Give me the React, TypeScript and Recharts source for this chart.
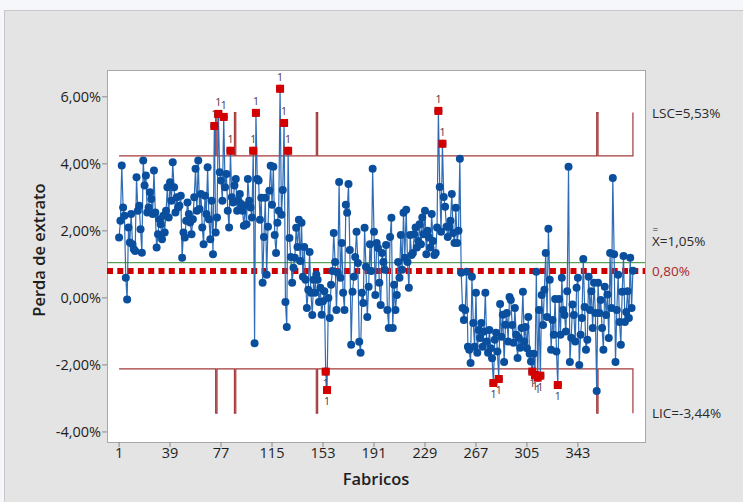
import React from "react";
import { ComposedChart, Line, XAxis, YAxis, ReferenceLine } from "recharts";

const perda = [
  1.8, 2.3, 3.95, 2.7, 2.45, 0.6, -0.05, 2.1, 1.65, 2.5,
  1.6, 1.45, 1.4, 3.6, 2.6, 2.75, 2.05, 1.35, 4.1, 3.35,
  3.65, 2.55, 2.7, 3.15, 2.95, 2.5, 3.8, 2.55, 1.5, 1.9,
  2.35, 2.2, 1.75, 2.45, 1.95, 2.6, 3.3, 2.4, 3.45, 2.9,
  4.05, 3.3, 2.55, 3.0, 2.7, 2.75, 3.05, 1.2, 1.95, 1.8,
  2.3, 2.85, 2.5, 2.25, 1.9, 2.35, 3.0, 3.85, 2.6, 4.1,
  2.65, 3.1, 2.1, 1.6, 3.05, 2.5, 3.9, 2.35, 1.75, 2.9,
  1.3, 5.13, 1.95, 2.4, 5.49, 3.75, 3.5, 2.9, 5.4, 3.3,
  3.7, 2.6, 2.1, 4.39, 3.0, 2.85, 3.35, 3.55, 2.6, 2.9,
  3.1, 2.8, 2.6, 2.15, 2.75, 2.2, 3.55, 2.9, 2.7, 2.4,
  4.39, -1.35, 5.52, 3.55, 3.5, 2.33, 2.99, 0.45, 1.82, 2.99,
  0.69, 2.12, 3.2, 3.94, 2.78, 3.91, 1.88, 1.34, 2.24, 2.6,
  6.24, 2.48, 3.22, 5.22, -0.12, -0.87, 4.39, 1.79, 1.22, 0.45,
  0.9, 1.2, 2.09, 1.52, 2.33, 1.1, 2.24, 0.63, 1.52, 0.54,
  -0.3, 0.24, 1.37, 0.15, -0.51, 0.54, 0.15, 0.7, 0.54, -0.12,
  0.3, -0.5, -0.1, 0.2, -2.2, -2.75, 0.0, -0.6, 0.39, 0.8,
  1.94, 1.07, -0.36, 0.75, 3.46, 0.6, 1.64, 0.15, -0.36, 2.78,
  2.54, 3.4, 1.43, -1.4, 0.18, 0.63, 1.22, 1.97, 1.04, -1.31,
  -1.64, 0.15, -0.15, 2.09, 0.93, -0.57, 0.33, 1.6, 0.8, 3.85,
  1.97, 0.09, 1.64, 1.49, 0.45, -0.21, 1.34, 1.07, 0.84, 1.58,
  -0.36, -0.9, 1.82, 2.39, -0.9, 0.39, -0.36, 0.09, 1.07, 0.6,
  1.88, 0.84, 2.54, 1.2, 2.63, 1.07, 0.3, 1.88, 1.28, 1.34,
  1.9, 2.1, 1.5, 1.7, 2.2, 1.6, 2.4, 1.9, 2.6, 1.3,
  2.0, 1.8, 1.5, 2.5, 1.7, 1.28, 1.34, 2.1, 5.58, 3.31,
  1.97, 4.6, 3.01, 2.72, 2.12, 1.82, 2.12, 2.3, 3.1, 1.94,
  1.64, 2.69, 1.64, 2.0, 4.15, 0.75, -0.3, -0.66, -0.36, 0.78,
  -1.46, -1.55, -1.94, 0.63, -0.75, -1.46, 0.15, -1.64, -0.96, -1.2,
  -0.75, -1.46, -1.0, 0.15, -1.3, -1.64, -0.96, -1.5, -1.8, -2.54,
  -1.25, -1.04, -1.6, -2.42, -0.18, -1.16, -0.5, -1.91, -0.8, -0.45,
  -1.3, 0.03, -0.06, -0.81, -1.34, -0.3, -1.1, -1.79, -1.19, -1.49,
  -0.9, 0.18, -1.3, -0.87, -1.5, -0.57, -1.67, -1.9, -2.2, -1.67,
  -2.3, 0.78, -2.38, -0.36, -2.32, 0.09, -0.81, 0.24, 1.34, -0.57,
  2.06, 0.54, -1.55, -0.66, -1.1, -0.03, -1.6, -2.6, -0.03, -1.1,
  0.6, -0.36, -0.51, -1.0, 0.2, 3.91, -1.91, -1.19, -0.2, -0.51,
  -1.3, 0.3, 0.6, -2.0, -1.1, -0.6, 1.16, -0.27, -1.55, -1.25,
  0.63, -0.36, 0.2, -0.9, 0.45, -0.45, -2.78, 0.45, -0.45, -0.06,
  -0.9, -1.55, 0.33, -0.51, 0.1, -1.2, 1.34, -0.3, 3.58, 1.3,
  -1.91, -0.36, 0.69, -0.72, -1.4, 0.18, 1.25, -0.72, -0.42, 0.2,
  -0.6, 1.2, -0.3, 0.81,
];

// fabricos onde os limites saltam (mudança de subgrupo)
const picosLimite = [73, 87, 148, 357, 384];

const LSC = 4.24;
const LSC_PICO = 5.53;
const LIC = -2.12;
const LIC_PICO = -3.44;
const MEDIA = 1.05;
const META = 0.8;

const ticksX = [1, 39, 77, 115, 153, 191, 229, 267, 305, 343];
const ticksY = [-4, -2, 0, 2, 4, 6];

const data = perda.map((v, i) => {
  const n = i + 1;
  const pico = picosLimite.includes(n);
  const fora = !pico && (v > LSC || v < LIC);
  return {
    n,
    perda: v,
    lsc: pico ? LSC_PICO : LSC,
    lic: pico ? LIC_PICO : LIC,
    fora: fora ? v : null,
  };
});

const FONT = "'Open Sans', 'Noto Sans', sans-serif";
const pct = (v: number) => v.toFixed(2).replace(".", ",") + "%";

function Quadrado(props: any) {
  const { cx, cy, payload, index } = props;
  if (payload == null || payload.fora == null || cx == null || cy == null) {
    return <g key={"q" + index} />;
  }
  const alto = payload.fora > MEDIA;
  return (
    <g key={"q" + index}>
      <rect x={cx - 4} y={cy - 4} width={8} height={8} fill="#d40000" />
      <text
        x={cx}
        y={alto ? cy - 8 : cy + 15}
        textAnchor="middle"
        fontSize={10.5}
        fill="#4a3040"
        fontFamily={FONT}
      >
        1
      </text>
    </g>
  );
}

const rotuloDireita =
  (texto: string, cor: string, dy = 0, barra = false) =>
  (props: any) => {
    const vb = props.viewBox || {};
    const x = vb.x + vb.width + 7;
    const y = vb.y + dy;
    return (
      <g>
        <text
          x={x}
          y={y}
          dominantBaseline="central"
          fontSize={13.5}
          fill={cor}
          fontFamily={FONT}
        >
          {texto}
        </text>
        {barra && (
          <text x={x + 0.5} y={y - 7.5} fontSize={10} fill={cor} fontFamily={FONT}>
            =
          </text>
        )}
      </g>
    );
  };

export default function App() {
  return (
    <div
      style={{
        position: "absolute",
        left: 0,
        top: 0,
        width: 743,
        height: 502,
        background: "#f5f7fa",
        overflow: "hidden",
        fontFamily: FONT,
      }}
    >
      <style>{"body{margin:0}"}</style>
      <div
        style={{
          position: "absolute",
          left: 4,
          top: 10,
          width: 739,
          height: 492,
          background: "#e4e4e4",
          borderTop: "1px solid #c8c8c8",
          borderLeft: "1px solid #c8c8c8",
        }}
      />
      <div
        style={{
          position: "absolute",
          left: 107,
          top: 70,
          width: 539,
          height: 373,
          boxSizing: "border-box",
          background: "#ffffff",
          border: "1px solid #a8a8a8",
        }}
      />
      <div style={{ position: "absolute", left: 0, top: 0 }}>
        <ComposedChart
          width={743}
          height={502}
          data={data}
          margin={{ top: 70, right: 98, left: 0, bottom: 0 }}
        >
          <XAxis
            dataKey="n"
            type="number"
            domain={[-8, 393]}
            ticks={ticksX}
            axisLine={false}
            tickSize={5}
            tickMargin={1}
            tick={{ fontSize: 14.5, fill: "#1e1e1e", fontFamily: FONT }}
            stroke="#8a8a8a"
            height={60}
            interval={0}
            label={{
              content: (p: any) => {
                const vb = p.viewBox || {};
                return (
                  <text
                    x={vb.x + vb.width / 2}
                    y={vb.y + 36}
                    textAnchor="middle"
                    dominantBaseline="central"
                    fontSize={16.5}
                    fontWeight={600}
                    fill="#1e1e1e"
                    fontFamily={FONT}
                  >
                    Fabricos
                  </text>
                );
              },
            }}
          />
          <YAxis
            type="number"
            domain={[-4.3, 6.8]}
            ticks={ticksY}
            tickFormatter={pct}
            axisLine={false}
            tickSize={5}
            tickMargin={1}
            tick={{ fontSize: 14.5, fill: "#1e1e1e", fontFamily: FONT }}
            stroke="#8a8a8a"
            width={107}
            interval={0}
            label={{
              content: (p: any) => {
                const vb = p.viewBox || {};
                const x = vb.x + 38;
                const y = vb.y + vb.height / 2 - 6;
                return (
                  <text
                    x={x}
                    y={y}
                    transform={`rotate(-90 ${x} ${y})`}
                    textAnchor="middle"
                    dominantBaseline="central"
                    fontSize={16.5}
                    fontWeight={600}
                    fill="#1e1e1e"
                    fontFamily={FONT}
                  >
                    Perda de extrato
                  </text>
                );
              },
            }}
          />
          <ReferenceLine
            y={MEDIA}
            stroke="#2f8a2f"
            strokeWidth={1}
            segment={[
              { x: 1, y: MEDIA },
              { x: perda.length, y: MEDIA },
            ]}
          />
          <Line
            dataKey="lsc"
            type="stepAfter"
            stroke="#a33a3a"
            strokeWidth={1.2}
            dot={false}
            activeDot={false}
            isAnimationActive={false}
          />
          <Line
            dataKey="lic"
            type="stepAfter"
            stroke="#a33a3a"
            strokeWidth={1.2}
            dot={false}
            activeDot={false}
            isAnimationActive={false}
          />
          <ReferenceLine
            y={META}
            stroke="#d00000"
            strokeWidth={6}
            strokeDasharray="6 4.3"
            label={rotuloDireita(pct(META), "#a82828")}
          />
          <Line
            dataKey="perda"
            type="linear"
            stroke="#2f6cb6"
            strokeWidth={1.2}
            dot={{ r: 4, fill: "#0a4f9e", stroke: "#0a4f9e", strokeWidth: 0 }}
            activeDot={false}
            isAnimationActive={false}
          />
          <Line
            dataKey="fora"
            stroke="none"
            dot={Quadrado}
            activeDot={false}
            connectNulls={false}
            isAnimationActive={false}
          />
          <ReferenceLine
            y={LSC_PICO}
            stroke="none"
            strokeOpacity={0}
            label={rotuloDireita("LSC=" + pct(LSC_PICO), "#2a2a2a")}
          />
          <ReferenceLine
            y={MEDIA}
            stroke="none"
            strokeOpacity={0}
            label={rotuloDireita("X=" + pct(MEDIA), "#2a2a2a", -22, true)}
          />
          <ReferenceLine
            y={LIC_PICO}
            stroke="none"
            strokeOpacity={0}
            label={rotuloDireita("LIC=" + pct(LIC_PICO), "#2a2a2a")}
          />
        </ComposedChart>
      </div>
    </div>
  );
}
